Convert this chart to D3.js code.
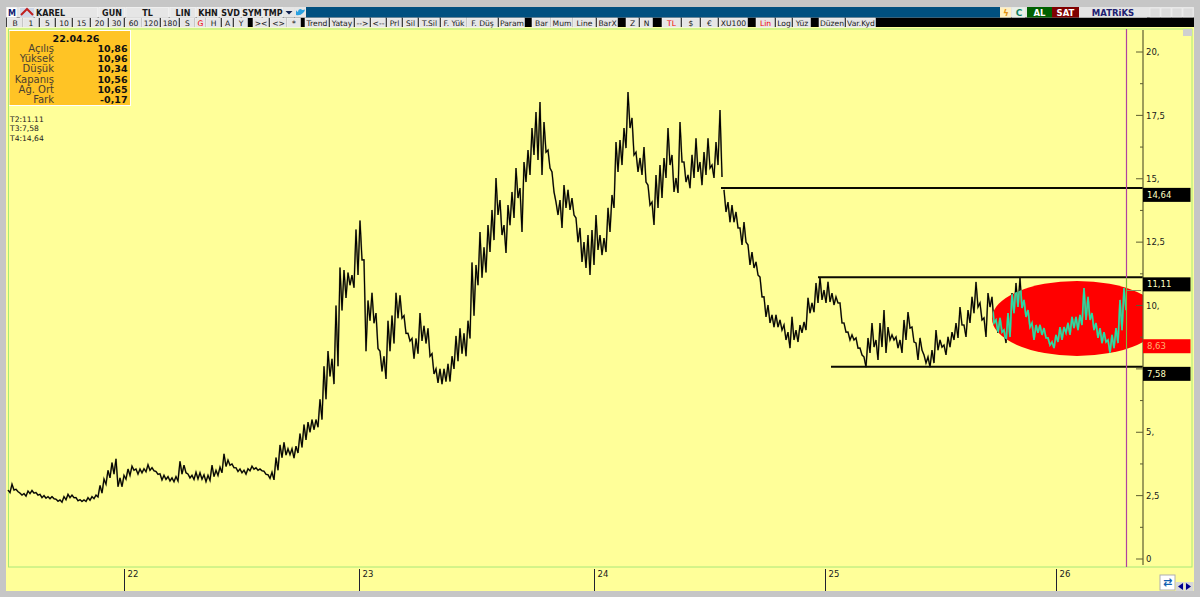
<!DOCTYPE html>
<html><head><meta charset="utf-8">
<script src="https://cdn.jsdelivr.net/npm/d3@7"></script>
<style>
html,body{margin:0;padding:0;background:#c4c4c4;overflow:hidden}
svg{display:block}
text{font-family:"DejaVu Sans",Verdana,sans-serif}
</style></head><body><svg id="c" width="1200" height="597"></svg>
<script>
const symbolName="KAREL";
const highs=[
2.72,2.95,2.75,2.6,2.58,2.68,2.7,2.62,2.55,2.5,
2.46,2.46,2.36,2.33,2.46,2.55,2.52,2.42,2.34,2.33,
2.42,2.46,2.52,2.9,3.15,3.5,3.8,3.95,3.2,3.3,
3.55,3.66,3.55,3.55,3.56,3.72,3.6,3.45,3.36,3.3,
3.25,3.2,3.25,3.85,3.7,3.35,3.3,3.42,3.4,3.32,
3.3,3.7,3.5,3.62,4.15,3.9,3.75,3.6,3.55,3.5,
3.56,3.66,3.6,3.55,3.46,3.32,3.42,4.0,4.5,4.6,
4.35,4.35,4.45,4.95,5.3,5.4,5.5,5.5,6.3,7.6,
8.2,7.9,10.0,11.5,11.4,11.3,11.2,13.0,13.35,11.8,
10.2,10.5,9.7,8.2,8.0,9.4,9.6,10.5,10.4,9.6,
8.9,8.7,8.7,9.7,9.2,9.1,8.1,7.5,7.5,7.5,
7.7,8.0,8.8,9.1,8.9,9.4,11.7,11.6,12.9,12.3,
13.17,13.77,15.03,14.16,13.17,13.96,14.48,15.42,14.63,15.66,
16.13,17.0,17.63,18.03,17.24,16.13,15.27,14.08,14.16,14.75,
14.56,14.24,13.45,13.06,12.5,12.78,12.98,13.57,12.78,12.66,
13.85,14.36,16.45,16.53,17.0,18.42,17.4,16.05,15.82,16.25,
14.75,14.08,15.15,15.54,15.82,17.0,15.94,15.03,17.24,15.66,
15.15,15.94,16.6,15.66,16.05,16.6,15.54,16.45,17.71,14.56,
14.08,13.96,13.69,13.06,13.29,12.39,12.11,11.72,11.12,10.34,
10.02,9.63,9.63,9.43,9.23,8.95,9.55,9.03,9.23,9.35,
10.3,10.1,10.89,11.12,10.61,10.93,10.49,10.34,10.1,9.31,
8.95,8.84,8.72,8.32,7.97,8.72,9.31,8.64,9.31,9.82,
9.15,8.84,8.76,8.64,9.43,9.74,9.15,8.52,8.72,8.05,
7.97,8.24,9.03,8.64,8.44,8.76,8.95,9.31,9.94,9.23,
9.82,10.34,10.93,10.1,9.51,10.49,10.34,9.43,9.51,9.03,
9.7,10.49,10.89,11.08,10.22,9.82,9.31,9.23,9.23,9.11,
8.72,8.56,8.84,9.15,9.15,9.31,9.55,9.55,9.63,10.69,
10.34,9.7,9.31,9.11,8.95,8.64,8.84,9.11,10.22,10.69];
const lows=[
2.62,2.72,2.66,2.52,2.48,2.58,2.6,2.52,2.42,2.4,
2.38,2.38,2.28,2.24,2.34,2.42,2.42,2.3,2.27,2.27,
2.32,2.38,2.45,2.6,2.95,3.2,3.35,2.85,2.85,3.15,
3.3,3.5,3.35,3.4,3.44,3.5,3.48,3.34,3.12,3.14,
3.08,3.05,3.08,3.35,3.4,3.2,3.14,3.16,3.15,3.05,
3.1,3.25,3.3,3.4,3.65,3.7,3.6,3.45,3.4,3.35,
3.48,3.54,3.5,3.48,3.34,3.18,3.12,3.5,4.0,4.1,
4.12,3.98,4.18,4.4,4.7,5.0,5.1,5.2,5.5,6.3,
7.2,6.9,7.6,9.8,10.3,10.8,10.7,11.2,11.8,8.2,
9.4,9.3,8.3,7.4,7.1,8.2,8.5,9.5,9.5,8.9,
8.6,7.9,8.1,8.6,8.5,8.0,7.3,6.95,6.9,7.0,
7.0,7.5,7.8,8.1,8.0,8.7,9.6,10.8,11.1,11.3,
12.11,12.58,13.57,12.78,12.07,13.17,13.45,14.24,12.9,14.87,
15.15,15.94,15.74,15.15,16.05,15.42,14.48,13.57,13.06,13.85,
13.77,13.57,12.5,11.72,11.48,11.2,11.6,12.19,11.99,12.11,
12.9,13.85,15.27,15.54,16.21,17.0,15.94,15.27,15.15,14.87,
13.96,13.18,13.85,14.24,15.03,15.54,14.48,14.44,15.66,14.87,
14.63,15.03,15.27,14.75,15.15,15.42,15.03,15.54,15.07,13.69,
13.29,13.29,13.06,12.39,12.5,11.6,11.48,11.2,10.34,9.55,
9.31,9.15,9.15,9.03,8.64,8.32,8.64,8.56,8.92,9.03,
9.7,9.74,10.1,10.22,10.1,10.14,10.02,10.1,9.31,8.95,
8.64,8.64,8.32,8.05,7.57,8.13,8.36,7.85,8.36,8.13,
8.64,8.64,8.32,8.13,8.64,9.11,8.56,7.85,8.24,7.73,
7.57,7.73,8.24,8.36,8.05,8.36,8.64,8.72,9.23,8.76,
9.31,9.7,9.94,9.43,8.76,9.94,9.31,8.92,8.95,8.52,
8.76,9.7,9.94,9.9,9.55,9.15,8.64,8.92,8.84,8.72,
8.44,8.32,8.56,8.64,8.92,8.84,9.11,9.03,9.23,9.43,
9.43,9.03,8.72,8.52,8.56,8.13,8.32,8.52,9.03,9.82];
const priceGapBar=179;
const yearLabels=["22","23","24","25","26"];
const yearBars=[29,87.75,146.5,204.25,262];
const yTickValues=[20,17.5,15,12.5,10,7.5,5,2.5,0];
const yTickLabels=["20,","17,5","15,","12,5","10,","","5,","2,5","0"];
const yMinorTicks=[18.75,16.25,13.75,11.25,8.75,6.25,3.75,1.25];
const levelValues=[14.64,11.11,7.58];
const levelStartBars=[178.25,202.5,205.75];
const levelLabels=["14,64","11,11","7,58"];
const lastPriceValue=8.63, lastPriceLabel="8,63";
const ellipseBar=267.25, ellipseValue=9.49;
const cursorBar=279.6;
const infoDate="22.04.26";
const infoNames=["Açılış","Yüksek","Düşük","Kapanış","Ağ. Ort","Fark"];
const infoValues=["10,86","10,96","10,34","10,56","10,65","-0,17"];
const trendNotes=["T2:11.11","T3:7,58","T4:14,64"];
const topButtons=[["M",7,17],["",20,34],["KAREL",35,98],["GUN",99,125],["TL",126,169],["LIN",170,196],["KHN",197,219],["SVD",220,241],["SYM",242,262],["TMP",263,283]];
const rowButtons=[["B",7,23],["1",23,39],["5",40,55],["10",56,72],["15",73,90],["20",91,108],["30",109,124],["60",125,142],["120",142,160],["180",161,179],["S",180,195],["G",195,206,1],["H",206,221],["A",222,233],["Y",234,248],["><",253,269],["<>",270,287],["*",287,301],["Trend",305,329],["Yatay",330,354],["-->",355,370],["<--",371,386],["Prl",387,402],["Sil",403,418],["T.Sil",419,440],["F. Yük",441,467],["F. Düş",467,498],["Param",499,525],["Bar",532,551],["Mum",551,573],["Line",573,596],["BarX",597,618],["Z",626,639],["N",640,653],["TL",662,681,1],["$",682,700],["€",701,718],["XU100",719,748],["Lin",756,775,1],["Log",776,792],["Yüz",793,811],["Düzen",819,845],["Var.Kyd",846,876]];

const svg=d3.select("#c");
const W=1200,H=597,axisX=1143;
const x=d3.scaleLinear().domain([0,highs.length-1]).range([8,1124]);
const y=d3.scaleLinear().domain([0,20]).range([559,52]);

// frame
svg.append("rect").attr("width",W).attr("height",H).attr("fill","#c6c6c6");
svg.append("rect").attr("x",6).attr("y",7).attr("width",1188).attr("height",20).attr("fill","#000");
svg.append("rect").attr("x",6).attr("y",7).attr("width",1188).attr("height",10.5).attr("fill","#e4e4e4");
svg.append("rect").attr("x",306).attr("y",7).attr("width",694).attr("height",10.5).attr("fill","#005080");
svg.append("rect").attr("x",6).attr("y",27).attr("width",1188).attr("height",564).attr("fill","#ffff99");
svg.append("rect").attr("x",8.5).attr("y",29).attr("width",1183.5).attr("height",538).attr("fill","#ffff99").attr("stroke","#a8e878").attr("stroke-width",1);

// toolbars
function button(b,y0,h,bold){
  const g=svg.append("g");
  g.append("rect").attr("x",b[1]).attr("y",y0).attr("width",b[2]-b[1]-.5).attr("height",h).attr("fill",b[0]==="M"?"#fff":"#e6e6e6").attr("stroke","#fafafa").attr("stroke-width",.5);
  g.append("text").attr("x",b[0]===symbolName?b[1]+1:(b[1]+b[2])/2).attr("y",y0+h-2).attr("text-anchor",b[0]===symbolName?"start":"middle")
   .attr("font-size",bold?8:7.6).attr("font-weight",bold?700:400).attr("fill",b[3]?"#f00000":b[0]==="M"?"#102070":"#181818").text(b[0]);
}
topButtons.forEach(b=>button(b,7.5,10,true));
rowButtons.forEach(b=>button(b,18,9.5,false));
svg.append("rect").attr("x",20).attr("y",8).attr("width",14).attr("height",9).attr("fill","#d0d8e8");
svg.append("path").attr("d","M21 15 L27 9 L33 15").attr("fill","none").attr("stroke","#c02020").attr("stroke-width",2);
svg.append("rect").attr("x",284).attr("y",7.5).attr("width",10).attr("height",10).attr("fill","#e6e6e6");
svg.append("path").attr("d","M285.5 11 L292.5 11 L289 14.5 Z").attr("fill","#102050");
svg.append("rect").attr("x",295).attr("y",7.5).attr("width",11).attr("height",10).attr("fill","#e6e6e6");
svg.append("path").attr("d","M296 15 Q300 16 303 13 Q305 11 305 9.5 Q302 10.5 301 9 Q298 9 298 12 Q296 11 296 10 Q296 13 296 15Z").attr("fill","#2aa0e0");
// right side controls
[[1000,1011,"#fff0c0"],[1012,1025,"#e8f0e8"]].forEach(r=>svg.append("rect").attr("x",r[0]).attr("y",7.5).attr("width",r[1]-r[0]).attr("height",10).attr("fill",r[2]));
svg.append("text").attr("x",1006).attr("y",16).attr("text-anchor","middle").attr("font-size",9).attr("font-weight",700).attr("fill","#e09010").text("ϟ");
svg.append("text").attr("x",1019).attr("y",16).attr("text-anchor","middle").attr("font-size",9).attr("font-weight",700).attr("fill","#108060").text("C");
[["AL",1027,1052,"#006000","#fff"],["SAT",1052,1079,"#800000","#fff"],["MATRiKS",1079,1147,"#e4e4e4","#202070"]].forEach(r=>{
  svg.append("rect").attr("x",r[1]).attr("y",7).attr("width",r[2]-r[1]).attr("height",10.5).attr("fill",r[3]);
  svg.append("text").attr("x",(r[1]+r[2])/2).attr("y",16).attr("text-anchor","middle").attr("font-size",8.5).attr("font-weight",700).attr("fill",r[4]).text(r[0]);
});
[1150,1161,1172,1183].forEach(px=>svg.append("rect").attr("x",px).attr("y",8).attr("width",10).attr("height",9).attr("fill","#dcdcdc").attr("stroke","#f4f4f4").attr("stroke-width",.5));
svg.append("rect").attr("x",1183).attr("y",29).attr("width",9).attr("height",7).attr("fill","#d0d0d0");

// annotation ellipse
const defs=svg.append("defs");
const ecx=x(ellipseBar),ecy=y(ellipseValue);
defs.append("clipPath").attr("id","ell").append("ellipse").attr("cx",ecx).attr("cy",ecy).attr("rx",85).attr("ry",37.5);
defs.append("clipPath").attr("id","plotClip").append("rect").attr("x",8).attr("y",29).attr("width",axisX-8).attr("height",538);
svg.append("g").attr("clip-path","url(#plotClip)").append("ellipse").attr("cx",ecx).attr("cy",ecy).attr("rx",85).attr("ry",37.5).attr("fill","#ff0000");

// price path
const pts=[];
highs.forEach((h,i)=>{ if(i===priceGapBar) pts.push(null); pts.push([i,h]); pts.push([i+.5,lows[i]]); });
const line=d3.line().defined(d=>d).x(d=>x(d[0])).y(d=>y(d[1]));
svg.append("path").attr("d",line(pts)).attr("fill","none").attr("stroke","#8f8f55").attr("stroke-width",1.7);
svg.append("path").attr("d",line(pts)).attr("fill","none").attr("stroke","#000").attr("stroke-width",1.1);
const teal=svg.append("g").attr("clip-path","url(#ell)");
teal.append("path").attr("d",line(pts)).attr("fill","none").attr("stroke","#909a60").attr("stroke-width",1.7);
teal.append("path").attr("d",line(pts)).attr("fill","none").attr("stroke","#1fe0ac").attr("stroke-width",1.2);

// level lines
levelValues.forEach((v,i)=>{
  svg.append("line").attr("x1",x(levelStartBars[i])).attr("x2",axisX).attr("y1",y(v)).attr("y2",y(v)).attr("stroke","#0a0a00").attr("stroke-width",2);
});

// cursor
const cx=Math.round(x(cursorBar))+.5;
svg.append("line").attr("x1",cx).attr("x2",cx).attr("y1",29).attr("y2",567).attr("stroke","#b040a0").attr("stroke-width",1.2);
svg.append("line").attr("x1",cx).attr("x2",cx).attr("y1",278).attr("y2",349).attr("stroke","#80c030").attr("stroke-width",1);
svg.append("line").attr("x1",cx).attr("x2",axisX-2).attr("y1",290.5).attr("y2",290.5).attr("stroke","#809060").attr("stroke-width",1);

// y axis
const yAxis=d3.axisRight(y).tickValues(yTickValues).tickSize(0).tickFormat((d,i)=>yTickLabels[i]);
const ya=svg.append("g").attr("transform",`translate(${axisX},0)`).call(yAxis);
ya.select(".domain").remove();
svg.append("line").attr("x1",axisX).attr("x2",axisX).attr("y1",30).attr("y2",565).attr("stroke","#5c5c30").attr("stroke-width",1.2);
ya.selectAll("text").attr("x",3).attr("font-size",8.5).attr("fill","#202020").style("font-family",'"DejaVu Sans",sans-serif');
yTickValues.forEach(v=>svg.append("line").attr("x1",axisX-7).attr("x2",axisX).attr("y1",y(v)).attr("y2",y(v)).attr("stroke","#5c5c30"));
yMinorTicks.forEach(v=>svg.append("line").attr("x1",axisX-3).attr("x2",axisX).attr("y1",y(v)).attr("y2",y(v)).attr("stroke","#5c5c30"));

// level labels
function tag(top,fill,col,txt){
  svg.append("rect").attr("x",axisX).attr("y",top).attr("width",47.5).attr("height",14).attr("fill",fill);
  svg.append("text").attr("x",axisX+4).attr("y",top+10).attr("font-size",8.5).attr("fill",col).text(txt);
}
levelValues.forEach((v,i)=>tag(y(v),"#000","#ffffc0",levelLabels[i]));
tag(y(lastPriceValue)-1,"#ff0000","#ffb070",lastPriceLabel);

// x axis
const xa=svg.append("g").attr("transform","translate(0,569)").call(d3.axisBottom(x).tickValues(yearBars).tickSize(22).tickFormat((d,i)=>yearLabels[i]));
xa.select(".domain").remove();
xa.selectAll("line").attr("stroke","#202030");
xa.selectAll("text").attr("x",3).attr("y",5).attr("dy",".35em").attr("text-anchor","start").attr("font-size",8.5).attr("fill","#202020").style("font-family",'"DejaVu Sans",sans-serif');

// info box
svg.append("rect").attr("x",9).attr("y",30).attr("width",122).attr("height",76).attr("fill","#fff");
svg.append("rect").attr("x",9.5).attr("y",31).attr("width",120.5).attr("height",74).attr("fill","#ffc425");
svg.append("text").attr("x",76).attr("y",42).attr("text-anchor","middle").attr("font-size",9.5).attr("font-weight",700).attr("fill","#101010").text(infoDate);
infoNames.forEach((n,i)=>{
  const py=52+i*10.2;
  svg.append("text").attr("x",54).attr("y",py).attr("text-anchor","end").attr("font-size",10).attr("fill","#4a4030").text(n);
  svg.append("text").attr("x",127.5).attr("y",py).attr("text-anchor","end").attr("font-size",9.5).attr("font-weight",700).attr("fill","#101010").text(infoValues[i]);
});
trendNotes.forEach((t,i)=>svg.append("text").attr("x",10).attr("y",122+i*9.3).attr("font-size",7.6).attr("fill","#202020").text(t));

// bottom-right controls
svg.append("rect").attr("x",1160).attr("y",575).attr("width",15).attr("height",15).attr("fill","#fff").attr("stroke","#b0b0b0");
svg.append("text").attr("x",1167.5).attr("y",586).attr("text-anchor","middle").attr("font-size",11).attr("font-weight",700).attr("fill","#1060b0").text("⇄");
[[1176,"M1183 583 L1178 586.5 L1183 590Z"],[1185,"M1186 583 L1191 586.5 L1186 590Z"]].forEach(a=>{
  svg.append("rect").attr("x",a[0]).attr("y",582).attr("width",8.5).attr("height",9).attr("fill","#d8d8d8");
  svg.append("path").attr("d",a[1]).attr("fill","#000090");
});
</script></body></html>
